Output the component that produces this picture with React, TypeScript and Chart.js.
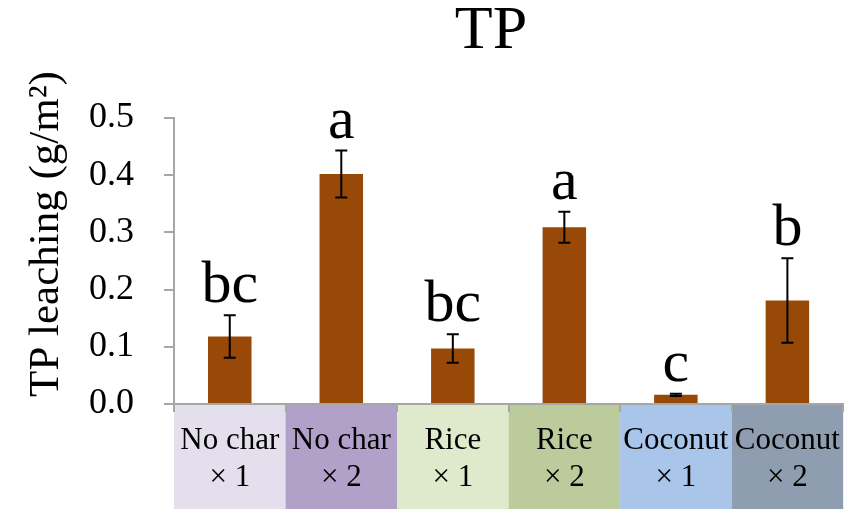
import React, { useEffect, useRef } from "react";
import { Chart, registerables } from "chart.js";

Chart.register(...registerables);

const categories: string[][] = [
  ["No char", "× 1"],
  ["No char", "× 2"],
  ["Rice", "× 1"],
  ["Rice", "× 2"],
  ["Coconut", "× 1"],
  ["Coconut", "× 2"],
];
const values: number[] = [0.118, 0.402, 0.097, 0.309, 0.016, 0.181];
const errors: number[] = [0.037, 0.041, 0.025, 0.027, 0.002, 0.074];
const letters: string[] = ["bc", "a", "bc", "a", "c", "b"];
const boxColors: string[] = ["#e4dfec", "#b1a0c7", "#dfe9cb", "#bccb9c", "#a9c5e9", "#8f9db0"];
const yTicks: number[] = [0, 0.1, 0.2, 0.3, 0.4, 0.5];
const chartTitle = "TP";
const yTitle = "TP leaching (g/m²)";

const SERIF = '"Liberation Serif", "Times New Roman", serif';
const BAR = "#984807";
const AXIS = "#a6a6a6";

const decorPlugin = {
  id: "decor",
  beforeDraw(chart: any) {
    const { ctx, chartArea } = chart;
    const x = chart.scales.x;
    const w = (chartArea.right - chartArea.left) / categories.length;
    ctx.save();
    categories.forEach((_, i) => {
      const cx = x.getPixelForValue(i);
      ctx.fillStyle = boxColors[i];
      ctx.fillRect(cx - w / 2, chartArea.bottom + 1, w, chart.height - chartArea.bottom - 1);
    });
    ctx.restore();
  },
  afterDatasetsDraw(chart: any) {
    const { ctx } = chart;
    const y = chart.scales.y;
    const meta = chart.getDatasetMeta(0);
    ctx.save();
    ctx.strokeStyle = "#000";
    ctx.lineWidth = 2;
    ctx.fillStyle = "#000";
    ctx.font = `60px ${SERIF}`;
    ctx.textAlign = "center";
    ctx.textBaseline = "alphabetic";
    values.forEach((v, i) => {
      const cx = meta.data[i].x;
      const top = y.getPixelForValue(v + errors[i]);
      const bot = y.getPixelForValue(v - errors[i]);
      ctx.beginPath();
      ctx.moveTo(cx, top);
      ctx.lineTo(cx, bot);
      ctx.moveTo(cx - 6, top);
      ctx.lineTo(cx + 6, top);
      ctx.moveTo(cx - 6, bot);
      ctx.lineTo(cx + 6, bot);
      ctx.stroke();
      ctx.fillText(letters[i], cx, top - 13);
    });
    ctx.restore();
  },
  afterDraw(chart: any) {
    const { ctx } = chart;
    ctx.save();
    ctx.fillStyle = "#000";
    ctx.textAlign = "center";
    ctx.textBaseline = "alphabetic";
    ctx.font = `62px ${SERIF}`;
    ctx.fillText(chartTitle, 491, 48);
    ctx.translate(58, 234);
    ctx.rotate(-Math.PI / 2);
    ctx.font = `43px ${SERIF}`;
    ctx.fillText(yTitle, 0, 0);
    ctx.restore();
  },
};

export default function App() {
  const ref = useRef<HTMLCanvasElement | null>(null);
  useEffect(() => {
    document.body.style.margin = "0";
    if (!ref.current) return;
    const chart = new Chart(ref.current, {
      type: "bar",
      data: {
        labels: categories,
        datasets: [
          {
            data: values,
            backgroundColor: BAR,
            borderWidth: 0,
            barPercentage: 0.39,
            categoryPercentage: 1,
          },
        ],
      },
      options: {
        responsive: false,
        animation: false,
        layout: { padding: { left: 0, right: 1, top: 118, bottom: 0 } },
        plugins: {
          legend: { display: false },
          tooltip: { enabled: false },
          title: { display: false },
        },
        scales: {
          x: {
            grid: {
              offset: true,
              drawOnChartArea: false,
              drawTicks: true,
              tickLength: 8,
              color: AXIS,
              lineWidth: 2,
            },
            border: { color: AXIS, width: 2 },
            ticks: {
              color: "#000",
              padding: 10,
              maxRotation: 0,
              autoSkip: false,
              font: { family: SERIF, size: 31, lineHeight: 1.2 },
            },
            afterFit: (s: any) => {
              s.height = 105;
            },
          },
          y: {
            min: 0,
            max: 0.5,
            afterBuildTicks: (s: any) => {
              s.ticks = yTicks.map((v) => ({ value: v }));
            },
            grid: {
              drawOnChartArea: false,
              drawTicks: true,
              tickLength: 10,
              color: AXIS,
              lineWidth: 2,
            },
            border: { color: AXIS, width: 2 },
            ticks: {
              color: "#000",
              padding: 30,
              autoSkip: false,
              font: { family: SERIF, size: 36 },
              callback: (v: any) => Number(v).toFixed(1),
            },
            afterFit: (s: any) => {
              s.width = 174;
            },
          },
        },
      },
      plugins: [decorPlugin],
    });
    return () => chart.destroy();
  }, []);
  return (
    <div style={{ position: "absolute", left: 0, top: 0, width: 850, height: 509 }}>
      <canvas ref={ref} width={850} height={509} style={{ width: 850, height: 509 }} />
    </div>
  );
}
